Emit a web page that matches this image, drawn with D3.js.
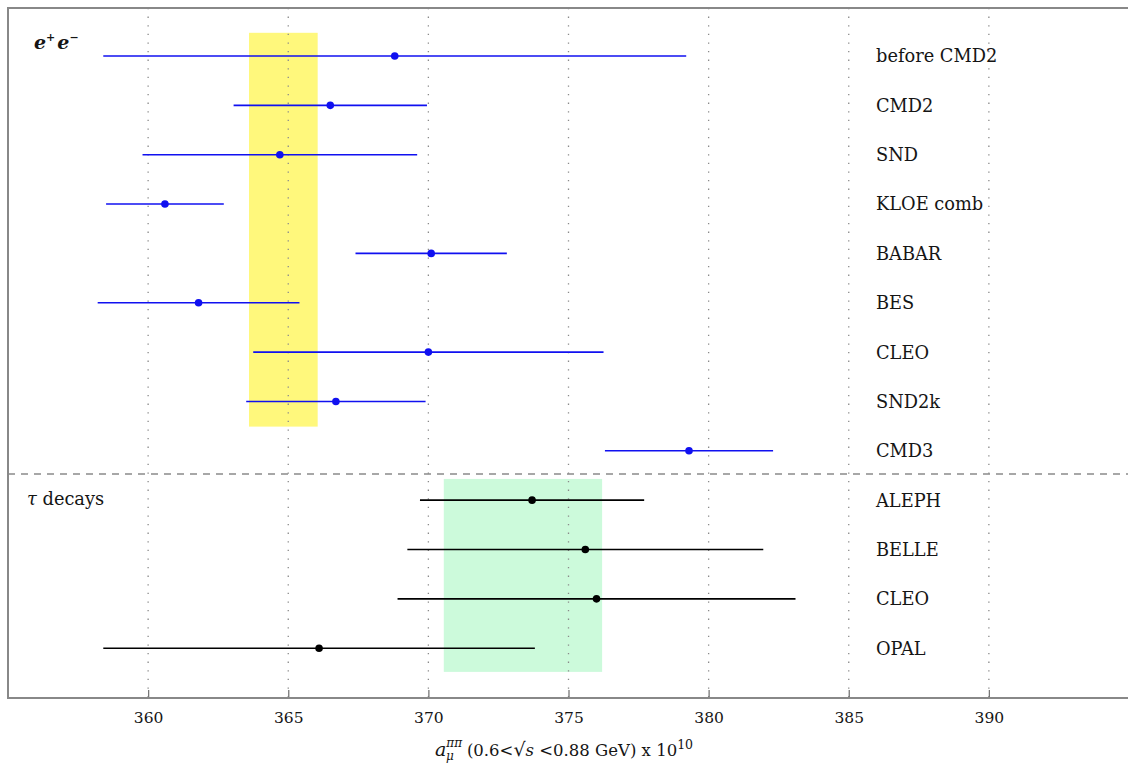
<!DOCTYPE html>
<html>
<head>
<meta charset="utf-8">
<script src="https://cdn.jsdelivr.net/npm/d3@7"></script>
<style>
  html, body { margin: 0; padding: 0; background: #fff; }
  svg { display: block; }
  text { font-family: "DejaVu Serif", "Liberation Serif", serif; fill: #151515; }
</style>
</head>
<body>
<svg id="chart" width="1128" height="764"></svg>
<script>
// Measurements of the pi-pi contribution to a_mu (0.6 < sqrt(s) < 0.88 GeV), x 10^10
const experiments = ["before CMD2", "CMD2", "SND", "KLOE comb", "BABAR", "BES", "CLEO", "SND2k", "CMD3",
                     "ALEPH", "BELLE", "CLEO", "OPAL"];
const groups      = ["ee", "ee", "ee", "ee", "ee", "ee", "ee", "ee", "ee", "tau", "tau", "tau", "tau"];
const central     = [368.8, 366.5, 364.7, 360.6, 370.1, 361.8, 370.0, 366.7, 379.3, 373.7, 375.6, 376.0, 366.1];
const errors      = [10.4, 3.45, 4.9, 2.1, 2.7, 3.6, 6.25, 3.2, 3.0, 4.0, 6.35, 7.1, 7.7];

// Shaded averages: [low, high] for each group
const eeBand  = [363.6, 366.05];
const tauBand = [370.55, 376.2];

const xTicks = [360, 365, 370, 375, 380, 385, 390];

const svg = d3.select("#chart");
const mLeft = 8, mRight = 1129, mTop = 8, mBottom = 698;

const x = d3.scaleLinear().domain([355, 395]).range([mLeft, mRight]);
const y = d3.scalePoint().domain(d3.range(experiments.length)).range([56, 648.2]);
const step = y.step();

const rows = experiments.map((name, i) => ({
  name, group: groups[i], v: central[i], e: errors[i], i
}));
const eeCount = rows.filter(d => d.group === "ee").length;

// Average bands
svg.append("rect")
  .attr("x", x(eeBand[0])).attr("width", x(eeBand[1]) - x(eeBand[0]))
  .attr("y", y(0) - step * 0.47)
  .attr("height", y(eeCount - 1) - y(0) + step * (0.47 - 0.49))
  .attr("fill", "#fff87c");
svg.append("rect")
  .attr("x", x(tauBand[0])).attr("width", x(tauBand[1]) - x(tauBand[0]))
  .attr("y", y(eeCount) - step * 0.43)
  .attr("height", y(experiments.length - 1) - y(eeCount) + step * (0.43 + 0.48))
  .attr("fill", "#ccfadb");

// Dotted vertical grid
svg.append("g").selectAll("line").data(xTicks).join("line")
  .attr("x1", d => x(d)).attr("x2", d => x(d))
  .attr("y1", mTop).attr("y2", mBottom)
  .attr("stroke", "#8a8a8a").attr("stroke-width", 1.3)
  .attr("stroke-dasharray", "1.3 7.3");

// Separator between e+e- and tau sections
const sepY = (y(eeCount - 1) + y(eeCount)) / 2 - 1.5;
svg.append("line")
  .attr("x1", mLeft).attr("x2", mRight).attr("y1", sepY).attr("y2", sepY)
  .attr("stroke", "#8a8a8a").attr("stroke-width", 1.6)
  .attr("stroke-dasharray", "7 6");

// Error bars and central values
const marks = svg.append("g");
marks.selectAll("line").data(rows).join("line")
  .attr("x1", d => x(d.v - d.e)).attr("x2", d => x(d.v + d.e))
  .attr("y1", d => y(d.i)).attr("y2", d => y(d.i))
  .attr("stroke", d => d.group === "ee" ? "#1010f0" : "#000")
  .attr("stroke-width", 1.6);
marks.selectAll("circle").data(rows).join("circle")
  .attr("cx", d => x(d.v)).attr("cy", d => y(d.i)).attr("r", 3.8)
  .attr("fill", d => d.group === "ee" ? "#1010f0" : "#000");

// Experiment labels
svg.append("g").selectAll("text").data(rows).join("text")
  .attr("x", 876).attr("y", d => y(d.i)).attr("dy", "0.36em")
  .attr("font-size", 17.8)
  .text(d => d.name);

// Frame (open on the right)
svg.append("path")
  .attr("d", `M${mRight},${mTop}H${mLeft}V${mBottom}H${mRight}`)
  .attr("fill", "none").attr("stroke", "#888").attr("stroke-width", 2);

// Bottom axis
const axis = svg.append("g").attr("transform", `translate(0,${mBottom})`)
  .call(d3.axisBottom(x).tickValues(xTicks).tickSize(0).tickPadding(14).tickFormat(d3.format("d")));
axis.select(".domain").remove();
axis.selectAll("text").attr("font-family", "DejaVu Serif, serif").attr("font-size", 15.5).attr("fill", "#151515");
axis.selectAll(".tick").append("line")
  .attr("y1", -1).attr("y2", -8).attr("stroke", "#777").attr("stroke-width", 1.3);

// Section labels
const ee = svg.append("text").attr("x", 34).attr("y", 49)
  .attr("font-size", 19).attr("font-style", "italic").attr("font-weight", "bold");
ee.append("tspan").text("e");
ee.append("tspan").attr("dy", -8).attr("font-size", 11).text("+");
ee.append("tspan").attr("dy", 8).attr("dx", 2).text("e");
ee.append("tspan").attr("dy", -8).attr("font-size", 11).text("−");

const tau = svg.append("text").attr("x", 27).attr("y", 505).attr("font-size", 17.8);
tau.append("tspan").attr("font-style", "italic").text("τ");
tau.append("tspan").text(" decays");

// Axis title
const title = svg.append("text").attr("x", 435).attr("y", 756).attr("font-size", 16.5);
title.append("tspan").attr("font-style", "italic").attr("font-size", 19).text("a");
title.append("tspan").attr("font-style", "italic").attr("font-size", 12).attr("dy", -9).text("ππ");
title.append("tspan").attr("font-style", "italic").attr("font-size", 12).attr("dx", -16).attr("dy", 13).text("μ");
title.append("tspan").attr("dy", -4).attr("dx", 13).text("(0.6<");
title.append("tspan").attr("font-size", 19).text("√");
title.append("tspan").attr("font-style", "italic").text("s");
title.append("tspan").text(" <0.88 GeV) x 10");
title.append("tspan").attr("dy", -7).attr("font-size", 12.5).text("10");
</script>
</body>
</html>
